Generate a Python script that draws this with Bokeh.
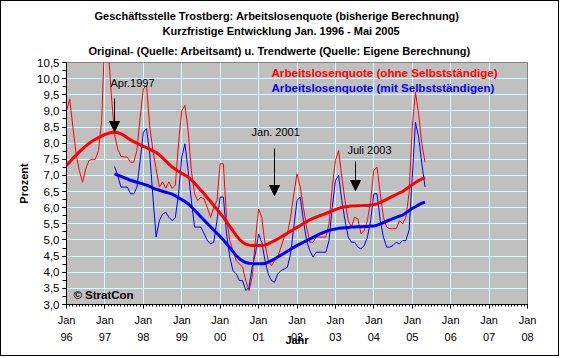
from bokeh.plotting import figure
from bokeh.models import Range1d, FixedTicker, Label, Arrow, NormalHead, Title
from bokeh.embed import file_html
from bokeh.resources import INLINE

# ---------------- data ----------------
start_year = 1996            # red series start: Jan 1996
blue_start_month = 15        # blue series start: Apr 1997 (month index from Jan 1996)

red_original = [9.0, 9.37, 8.5, 7.67, 7.15, 6.79, 7.2, 7.46, 7.5, 7.5, 7.77, 8.7,
                11.5, 11.0, 9.5, 8.29, 7.82, 7.59, 7.57, 7.57, 7.41, 7.41, 7.77, 8.8,
                9.68, 9.79, 8.5, 7.77, 7.2, 6.64, 6.8, 6.6, 6.8, 6.6, 6.7, 8.0,
                9.0, 9.17, 8.4, 7.15, 6.43, 6.22, 6.33, 6.27, 6.0, 5.7, 6.0, 6.22,
                7.36, 7.36, 5.7, 4.98, 4.67, 4.36, 4.26, 4.16, 3.74, 3.43, 3.85, 4.98,
                5.96, 5.7, 4.88, 4.36, 4.2, 4.36, 4.47, 4.78, 5.09, 5.19, 5.7, 6.43,
                7.05, 6.64, 6.0, 5.4, 4.93, 4.93, 5.09, 5.09, 5.09, 5.09, 5.5, 6.64,
                7.46, 7.77, 6.95, 6.22, 5.6, 5.4, 5.7, 5.66, 5.19, 5.3, 5.6, 6.22,
                7.15, 7.26, 6.43, 5.7, 5.4, 5.35, 5.35, 5.35, 5.6, 5.5, 5.7, 6.43,
                8.5, 9.58, 8.9, 7.98, 7.41]

red_trend = [7.31, 7.42, 7.53, 7.63, 7.73, 7.82, 7.91, 7.99, 8.06, 8.12, 8.17, 8.22,
             8.27, 8.30, 8.33, 8.34, 8.33, 8.29, 8.24, 8.17, 8.10, 8.05, 8.00, 7.95,
             7.90, 7.86, 7.81, 7.76, 7.71, 7.64, 7.55, 7.45, 7.35, 7.26, 7.19, 7.13,
             7.07, 7.01, 6.95, 6.86, 6.76, 6.65, 6.54, 6.43, 6.31, 6.19, 6.07, 5.95,
             5.83, 5.70, 5.56, 5.42, 5.28, 5.14, 5.02, 4.93, 4.87, 4.84, 4.83, 4.83,
             4.83, 4.83, 4.84, 4.88, 4.93, 4.98, 5.03, 5.09, 5.15, 5.21, 5.27, 5.33,
             5.39, 5.45, 5.51, 5.57, 5.62, 5.67, 5.71, 5.75, 5.78, 5.82, 5.86, 5.90,
             5.94, 5.98, 6.01, 6.03, 6.04, 6.05, 6.05, 6.06, 6.06, 6.07, 6.07, 6.08,
             6.09, 6.12, 6.16, 6.21, 6.26, 6.31, 6.36, 6.41, 6.46, 6.50, 6.57, 6.64,
             6.71, 6.78, 6.84, 6.89, 6.93]

blue_original = [7.28, 7.0, 6.64, 6.64, 6.64, 6.43, 6.43, 6.64, 7.46,
                 8.34, 8.45, 7.67, 6.33, 5.09, 5.6, 5.8, 5.86, 5.7, 5.6, 5.7, 6.43,
                 7.57, 7.98, 7.15, 6.22, 5.4, 5.4, 5.4, 5.19, 4.98, 4.88, 4.93, 5.6,
                 6.33, 6.33, 5.19, 4.47, 4.05, 3.95, 3.74, 3.74, 3.43, 3.53, 4.16, 4.57,
                 5.19, 4.93, 4.36, 3.95, 3.74, 3.69, 3.95, 4.05, 4.1, 4.16, 4.57, 5.4,
                 6.22, 6.33, 5.6, 4.98, 4.67, 4.47, 4.62, 4.62, 4.62, 4.62, 4.98, 6.0,
                 6.84, 7.0, 6.22, 5.6, 5.09, 4.93, 4.93, 4.78, 4.72, 4.83, 5.09, 5.6,
                 6.43, 6.43, 5.6, 5.09, 4.78, 4.78, 4.83, 4.93, 4.88, 4.98, 4.98, 5.3,
                 6.95, 8.65, 8.19, 7.36, 6.64]

blue_trend = [7.05, 7.01, 6.97, 6.93, 6.89, 6.85, 6.82, 6.79, 6.76,
              6.73, 6.70, 6.66, 6.61, 6.57, 6.54, 6.51, 6.48, 6.45, 6.42, 6.37, 6.31,
              6.25, 6.19, 6.12, 6.03, 5.93, 5.82, 5.71, 5.61, 5.51, 5.41, 5.31, 5.21,
              5.11, 5.00, 4.88, 4.76, 4.64, 4.52, 4.42, 4.35, 4.30, 4.28, 4.27, 4.26,
              4.26, 4.26, 4.27, 4.31, 4.36, 4.41, 4.47, 4.53, 4.59, 4.65, 4.71, 4.77,
              4.83, 4.88, 4.93, 4.98, 5.03, 5.08, 5.13, 5.18, 5.22, 5.26, 5.30, 5.32,
              5.34, 5.36, 5.37, 5.38, 5.39, 5.40, 5.40, 5.41, 5.41, 5.42, 5.42, 5.43,
              5.43, 5.46, 5.50, 5.54, 5.58, 5.62, 5.66, 5.70, 5.74, 5.77, 5.84, 5.91,
              5.98, 6.03, 6.09, 6.14, 6.17]

x_tick_years = list(range(1996, 2009))
x_tick_labels = ["Jan\n96", "Jan\n97", "Jan\n98", "Jan\n99", "Jan\n00", "Jan\n01", "Jan\n02",
                 "Jan\n03", "Jan\n04", "Jan\n05", "Jan\n06", "Jan\n07", "Jan\n08"]
y_tick_values = [3.0, 3.5, 4.0, 4.5, 5.0, 5.5, 6.0, 6.5, 7.0, 7.5, 8.0, 8.5, 9.0, 9.5, 10.0, 10.5]
y_tick_labels = ["3,0", "3,5", "4,0", "4,5", "5,0", "5,5", "6,0", "6,5", "7,0", "7,5",
                 "8,0", "8,5", "9,0", "9,5", "10,0", "10,5"]

title_lines = ["Geschäftsstelle Trostberg: Arbeitslosenquote (bisherige Berechnung)",
               "Kurzfristige Entwicklung Jan. 1996 - Mai 2005",
               "Original- (Quelle: Arbeitsamt) u. Trendwerte (Quelle: Eigene Berechnung)"]
legend_red = "Arbeitslosenquote (ohne Selbstständige)"
legend_blue = "Arbeitslosenquote (mit Selbstständigen)"

# ---------------- x positions ----------------
x_red = [start_year + m / 12 for m in range(len(red_original))]
x_blue = [start_year + (blue_start_month + m) / 12 for m in range(len(blue_original))]

FONT = "Liberation Sans"

p = figure(width=559, height=356, output_backend="svg", toolbar_location=None,
           x_range=Range1d(1996, 2008), y_range=Range1d(3.0, 10.5),
           min_border_left=65, min_border_right=33, min_border_top=61, min_border_bottom=53)
p.styles = {"border": "1px solid black"}
p.background_fill_color = "#C0C0C0"
p.border_fill_color = "white"
p.outline_line_color = "#808080"
p.outline_line_width = 1

# titles (stacked above the frame, first added = closest to the frame)
for txt, so, off in [(title_lines[2], 11, 22), (title_lines[1], 1, 96), (title_lines[0], 1, 28)]:
    p.add_layout(Title(text=txt, align="left", offset=off, text_font=FONT,
                       text_font_size="11px", text_font_style="bold",
                       text_color="black", standoff=so), "above")

# grid
p.xgrid.grid_line_color = "#C8FFFF"
p.ygrid.grid_line_color = "#C8FFFF"
p.xgrid.grid_line_width = 1
p.ygrid.grid_line_width = 1

# x axis
p.xaxis.ticker = FixedTicker(ticks=x_tick_years,
                             minor_ticks=[start_year + k / 12 for k in range(12 * 12 + 1)])
p.xaxis.major_label_overrides = {y: l for y, l in zip(x_tick_years, x_tick_labels)}
p.xaxis.major_label_text_font = FONT
p.xaxis.major_label_text_font_size = "11px"
p.xaxis.major_label_text_color = "black"
p.xaxis.major_label_text_line_height = 1.45
p.xaxis.major_tick_out = 4
p.xaxis.major_tick_in = 0
p.xaxis.minor_tick_out = 2
p.xaxis.minor_tick_in = 0
p.xaxis.major_label_standoff = 5
p.xaxis.axis_line_color = "black"
p.xaxis.major_tick_line_color = "black"
p.xaxis.minor_tick_line_color = "black"
p.xaxis.axis_label = "Jahr"
p.xaxis.axis_label_text_font = FONT
p.xaxis.axis_label_text_font_size = "11px"
p.xaxis.axis_label_text_font_style = "bold"
p.xaxis.axis_label_text_color = "black"
p.xaxis.axis_label_standoff = -12

# y axis
p.yaxis.ticker = FixedTicker(ticks=y_tick_values,
                             minor_ticks=[3.0 + k * 0.25 for k in range(31)])
p.yaxis.major_label_overrides = {v: l for v, l in zip(y_tick_values, y_tick_labels)}
p.yaxis.major_label_text_font = FONT
p.yaxis.major_label_text_font_size = "11.5px"
p.yaxis.major_label_text_color = "black"
p.yaxis.major_tick_out = 4
p.yaxis.major_tick_in = 0
p.yaxis.minor_tick_out = 4
p.yaxis.minor_tick_in = 0
p.yaxis.major_label_standoff = 3
p.yaxis.axis_line_color = "black"
p.yaxis.major_tick_line_color = "black"
p.yaxis.minor_tick_line_color = "black"
p.yaxis.axis_label = "Prozent"
p.yaxis.axis_label_text_font = FONT
p.yaxis.axis_label_text_font_size = "11px"
p.yaxis.axis_label_text_font_style = "bold"
p.yaxis.axis_label_text_color = "black"
p.yaxis.axis_label_standoff = 4

# series
p.line(x_red, red_original, line_color="#FF0000", line_width=1)
p.line(x_blue, blue_original, line_color="#0000FF", line_width=1)
p.line(x_red, red_trend, line_color="#FF0000", line_width=3)
p.line(x_blue, blue_trend, line_color="#0000FF", line_width=3)

def lab(x, y, text, size="11px", style="normal", color="black", align="left"):
    p.add_layout(Label(x=x, y=y, text=text, text_font=FONT, text_font_size=size,
                       text_font_style=style, text_color=color, text_align=align,
                       text_baseline="middle"))

# legend texts
lab(2001.336, 10.18, legend_red, size="11.6px", style="bold", color="#FF0000")
lab(2001.336, 9.735, legend_blue, size="11.6px", style="bold", color="#0000FF")

# annotations
lab(1997.145, 9.88, "Apr.1997")
lab(2000.816, 8.36, "Jan. 2001")
lab(2003.314, 7.773, "Juli 2003")
lab(1996.18, 3.28, "© StratCon", size="11.5px", style="bold")

for xs, y0, y1 in [(1997.25, 9.384, 8.36), (2001.414, 7.835, 6.378), (2003.523, 7.432, 6.533)]:
    p.add_layout(Arrow(end=NormalHead(size=10, fill_color="black", line_color="black"),
                       x_start=xs, y_start=y0, x_end=xs, y_end=y1,
                       line_color="black", line_width=1))

open("out.html", "w").write(file_html(p, INLINE))
